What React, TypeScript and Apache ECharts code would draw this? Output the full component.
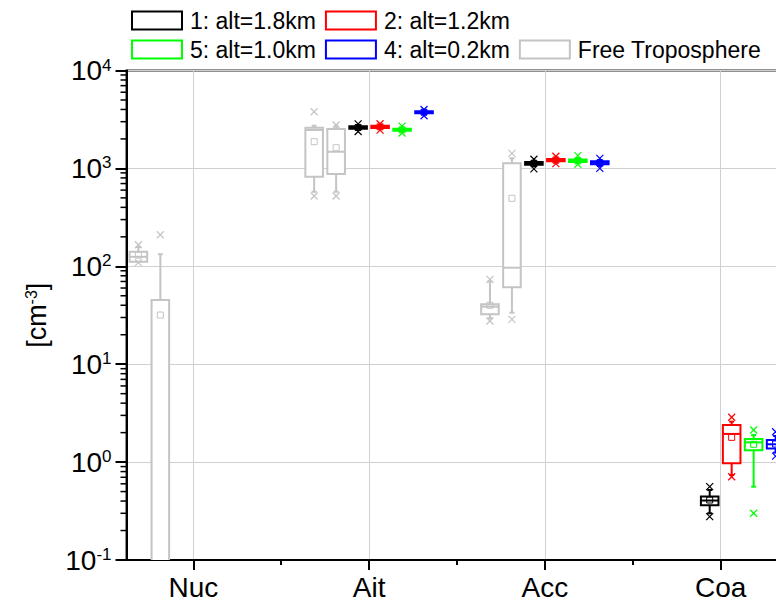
import React, { useEffect, useRef } from 'react';
import * as echarts from 'echarts';

// Size-mode categories on the x axis (placed at 1, 2, 3, 4)
const categories = ['Nuc', 'Ait', 'Acc', 'Coa'];
const categoryPositions = [1, 2, 3, 4];
const minorTickPositions = [1.5, 2.5, 3.5];

// Each entry: [xLow, whiskerLow, q1, median, q3, whiskerHigh, xHigh, mean] in cm^-3
// one row per category (Nuc, Ait, Acc, Coa); null where no measurement exists
const freeTropFirst = [
  [109, 113, 111, 125, 141, 157, 166, 130],
  [522, 578, 823, 2466, 2606, 2731, 3793, 1875],
  [27.6, 29.4, 32.3, 38.7, 40.9, 70, 73.6, 40],
  null,
];
const freeTropSecond = [
  [0.003, 0.005, 0.01, 0.05, 45.3, 133, 210, 31.8],
  [522, 578, 877, 1483, 2525, 2700, 2776, 1627],
  [28.7, 33.6, 61.1, 96.8, 1127, 1268, 1426, 495],
  null,
];
const site1 = [
  null,
  [2380, 2480, 2540, 2620, 2700, 2760, 2850, 2620],
  [990, 1050, 1090, 1125, 1160, 1200, 1240, 1125],
  [0.277, 0.3, 0.363, 0.405, 0.444, 0.519, 0.561, 0.41],
];
const site2 = [
  null,
  [2460, 2540, 2590, 2660, 2730, 2780, 2860, 2660],
  [1120, 1150, 1180, 1215, 1250, 1290, 1330, 1215],
  [0.709, 0.738, 0.973, 1.94, 2.39, 2.59, 2.87, 1.79],
];
const site5 = [
  null,
  [2300, 2370, 2420, 2480, 2540, 2600, 2700, 2480],
  [1100, 1130, 1160, 1195, 1230, 1270, 1350, 1195],
  [0.3, 0.561, 1.32, 1.59, 1.72, 1.89, 2.13, 1.52],
];
const site4 = [
  null,
  [3450, 3580, 3660, 3750, 3840, 3920, 4000, 3750],
  [1000, 1060, 1100, 1140, 1180, 1220, 1265, 1140],
  [1.15, 1.25, 1.38, 1.52, 1.68, 1.85, 2.04, 1.53],
];

const GRAY = '#c4c4c4';
const FONT = 'Liberation Sans';
const SLOT_STEP = 0.125; // horizontal spacing between boxes inside a category
const BOX_HALF = 0.05; // half box width in x units

const groups = [
  { name: '1: alt=1.8km', color: '#000000', boxes: [[2, site1]] },
  { name: '2: alt=1.2km', color: '#ff0000', boxes: [[3, site2]] },
  { name: '5: alt=1.0km', color: '#00ff00', boxes: [[4, site5]] },
  { name: '4: alt=0.2km', color: '#0000ff', boxes: [[5, site4]] },
  { name: 'Free Troposphere', color: GRAY, boxes: [[0, freeTropFirst], [1, freeTropSecond]] },
] as { name: string; color: string; boxes: [number, (number[] | null)[]][] }[];

function boxRenderer(color: string) {
  return (params: any, api: any) => {
    const pos = api.value(0) + (api.value(1) - 2.5) * SLOT_STEP;
    const yOf = (i: number) => api.coord([pos, api.value(2 + i)])[1];
    const cx = api.coord([pos, 1])[0];
    const hw = api.coord([pos + BOX_HALF, 1])[0] - cx;
    const xl = yOf(0), wl = yOf(1), q1 = yOf(2), med = yOf(3), q3 = yOf(4), wh = yOf(5), xh = yOf(6), mean = yOf(7);
    const line = (x1: number, y1: number, x2: number, y2: number, w = 2) => ({
      type: 'line',
      shape: { x1, y1, x2, y2 },
      style: { stroke: color, lineWidth: w },
    });
    const cross = (y: number) => [
      line(cx - 3.5, y - 3.5, cx + 3.5, y + 3.5, 1.2),
      line(cx - 3.5, y + 3.5, cx + 3.5, y - 3.5, 1.2),
    ];
    return {
      type: 'group',
      children: [
        line(cx, q3, cx, wh),
        line(cx, q1, cx, wl),
        line(cx - 2.5, wh, cx + 2.5, wh),
        line(cx - 2.5, wl, cx + 2.5, wl),
        {
          type: 'rect',
          shape: { x: cx - hw, y: q3, width: 2 * hw, height: q1 - q3 },
          style: { fill: '#ffffff', stroke: color, lineWidth: 2 },
        },
        line(cx - hw, med, cx + hw, med),
        {
          type: 'rect',
          shape: { x: cx - 3, y: mean - 3, width: 6, height: 6 },
          style: { fill: 'none', stroke: color, lineWidth: 1 },
        },
        ...cross(xh),
        ...cross(xl),
      ],
    };
  };
}

// Log-scale minor ticks (2..9 within each decade) for the left axis
const minorLogTicks: number[] = [];
for (let e = -1; e < 4; e++) {
  for (let m = 2; m <= 9; m++) minorLogTicks.push(m * Math.pow(10, e));
}

const X_MIN = 0.62;
const X_MAX = 4.4;

export default function App() {
  const ref = useRef<HTMLDivElement>(null);

  useEffect(() => {
    if (!ref.current) return;
    const chart = echarts.init(ref.current, undefined, { renderer: 'svg' });

    const boxSeries = groups.map((g) => {
      const data: number[][] = [];
      g.boxes.forEach(([slot, rows]) => {
        rows.forEach((row, ci) => {
          if (row) data.push([categoryPositions[ci], slot, ...row]);
        });
      });
      return {
        type: 'custom',
        name: g.name,
        clip: true,
        encode: { x: 0, y: 5 },
        itemStyle: { color: g.color },
        renderItem: boxRenderer(g.color),
        data,
        z: g.name === 'Free Troposphere' ? 2 : 3,
      };
    });
    // Free troposphere boxes go underneath
    boxSeries.sort((a, b) => a.z - b.z);

    const legendItem = (name: string, color: string) => ({
      name,
      icon: 'rect',
      itemStyle: { color: '#ffffff', borderColor: color, borderWidth: 2 },
    });
    const legendCommon = {
      left: 131,
      itemWidth: 50,
      itemHeight: 18,
      itemGap: 9,
      selectedMode: false,
      orient: 'horizontal',
      padding: 0,
      textStyle: { fontSize: 23, fontFamily: FONT, color: '#000', padding: [0, 0, 0, 3] },
    };

    chart.setOption({
      animation: false,
      backgroundColor: '#ffffff',
      textStyle: { fontFamily: FONT },
      grid: {
        left: 126.5,
        top: 70.5,
        width: 664.5,
        bottom: 45,
        outerBoundsMode: 'none',
        containLabel: false,
        show: true,
        borderColor: '#222',
        borderWidth: 2,
        backgroundColor: 'transparent',
      },
      legend: [
        { ...legendCommon, top: 9, data: [legendItem(groups[0].name, groups[0].color), legendItem(groups[1].name, groups[1].color)] },
        {
          ...legendCommon,
          top: 38,
          data: [
            legendItem(groups[2].name, groups[2].color),
            legendItem(groups[3].name, groups[3].color),
            legendItem(groups[4].name, groups[4].color),
          ],
        },
      ],
      xAxis: [
        {
          type: 'value',
          min: X_MIN,
          max: X_MAX,
          position: 'bottom',
          axisLine: { show: true, onZero: false, lineStyle: { color: '#000', width: 2 } },
          axisTick: { show: true, customValues: categoryPositions, length: 10, lineStyle: { color: '#000', width: 2 } },
          axisLabel: {
            customValues: categoryPositions,
            formatter: (v: number) => categories[Math.round(v) - 1] ?? '',
            fontSize: 28,
            fontFamily: FONT,
            color: '#000',
            margin: 13,
          },
          splitLine: { show: true, lineStyle: { color: '#d0d0d0', width: 1 } },
        },
        {
          type: 'value',
          min: X_MIN,
          max: X_MAX,
          position: 'bottom',
          axisLine: { show: false, onZero: false },
          axisTick: { show: true, customValues: minorTickPositions, length: 5, lineStyle: { color: '#000', width: 2 } },
          axisLabel: { show: false },
          splitLine: { show: false },
        },
      ],
      yAxis: {
        type: 'log',
        logBase: 10,
        min: 0.1,
        max: 10000,
        axisLine: { show: true, onZero: false, lineStyle: { color: '#000', width: 2 } },
        axisTick: { show: true, length: 11, lineStyle: { color: '#000', width: 2 } },
        axisLabel: {
          margin: 15,
          formatter: (v: number) => `{b|10}{s|${Math.round(Math.log10(v))}}`,
          rich: {
            b: { fontSize: 28, fontFamily: FONT, color: '#000' },
            s: { fontSize: 17, fontFamily: FONT, color: '#000', verticalAlign: 'top' },
          },
        },
        splitLine: { show: true, lineStyle: { color: '#d0d0d0', width: 1 } },
        name: '[cm{s|-3}]',
        nameLocation: 'middle',
        nameRotate: 90,
        nameGap: 76,
        nameTextStyle: {
          fontSize: 27,
          fontFamily: FONT,
          color: '#000',
          rich: { s: { fontSize: 16, fontFamily: FONT, color: '#000', verticalAlign: 'top' } },
        },
      },
      series: [
        ...boxSeries,
        {
          type: 'custom',
          name: 'minorTicks',
          silent: true,
          clip: false,
          encode: { x: 0, y: 1 },
          data: minorLogTicks.map((v) => [X_MIN, v]),
          renderItem: (params: any, api: any) => {
            const [x, y] = api.coord([api.value(0), api.value(1)]);
            return {
              type: 'line',
              shape: { x1: x - 6, y1: y, x2: x, y2: y },
              style: { stroke: '#000', lineWidth: 1.5 },
            };
          },
        },
      ],
    });

    return () => chart.dispose();
  }, []);

  return (
    <div
      ref={ref}
      style={{ position: 'fixed', left: 0, top: 0, width: 776, height: 605, background: '#fff' }}
    />
  );
}
